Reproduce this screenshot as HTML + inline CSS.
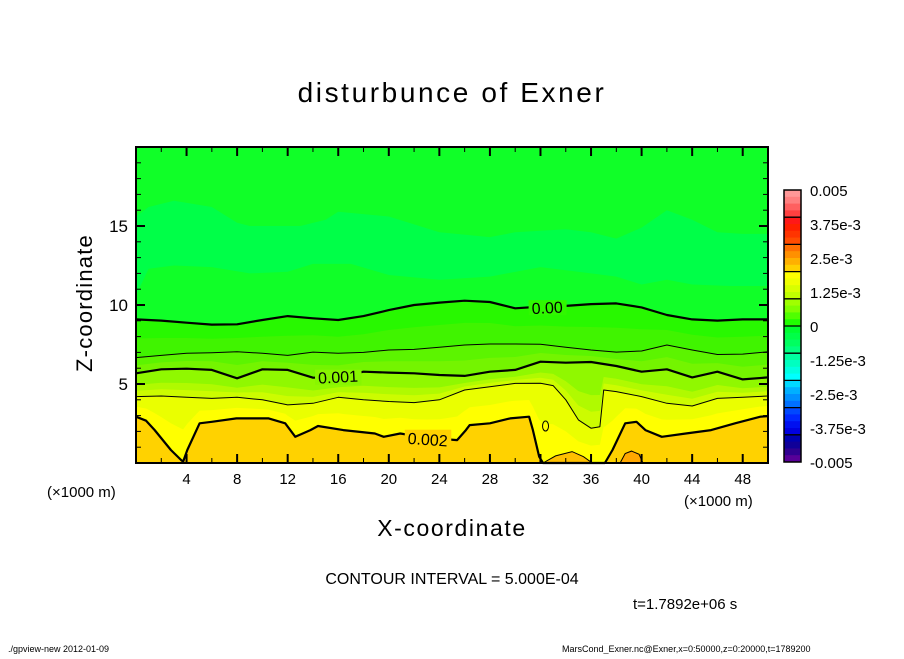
<!DOCTYPE html>
<html><head><meta charset="utf-8"><style>
html,body{margin:0;padding:0;background:#fff;}
svg text{font-family:"Liberation Sans",sans-serif;fill:#000;}
</style></head><body>
<svg id="chart" width="904" height="654" viewBox="0 0 904 654" xmlns="http://www.w3.org/2000/svg">
<text x="452" y="102" font-size="28" text-anchor="middle" letter-spacing="2.6">disturbunce of Exner</text>
<g id="plot"></g>
<g id="axes"></g>
<g id="cbar"></g>
<text transform="translate(92,303) rotate(-90)" font-size="22" text-anchor="middle" letter-spacing="1.2">Z-coordinate</text>
<text x="452" y="536" font-size="23" text-anchor="middle" letter-spacing="1.6">X-coordinate</text>
<text x="47" y="497" font-size="15">(×1000 m)</text>
<text x="684" y="506" font-size="15">(×1000 m)</text>
<text x="452" y="584" font-size="16" text-anchor="middle">CONTOUR INTERVAL = 5.000E-04</text>
<text x="633" y="609" font-size="15">t=1.7892e+06 s</text>
<text x="8" y="652" font-size="9">./gpview-new  2012-01-09</text>
<text x="562" y="652" font-size="9">MarsCond_Exner.nc@Exner,x=0:50000,z=0:20000,t=1789200</text>
</svg>
<script>
// data (x in 1000 m, z in 1000 m)
const c0x = [0,2,4,6,8,10,12,14,16,18,20,22,24,26,28,30,32,34,36,38,40,42,44,46,48,50];
const c0z = [9.09,9.01,8.88,8.76,8.78,9.05,9.30,9.16,9.05,9.3,9.68,10.0,10.15,10.27,10.19,9.79,9.9,9.94,10.06,10.1,9.85,9.37,9.09,9.01,9.09,9.09];
const c05x = [0,2,4,6,8,10,12,14,16,18,20,22,24,26,28,30,32,34,36,38,40,42,44,46,48,50];
const c05z = [6.67,6.81,6.94,6.98,7.04,6.94,6.81,7.02,6.94,7.0,7.15,7.19,7.32,7.47,7.53,7.53,7.51,7.32,7.15,7.02,7.09,7.47,7.15,6.87,6.89,7.04];
const c1x = [0,2,4,6,8,10,12,14,16,18,20,22,24,26,28,30,32,34,36,38,40,42,44,46,48,50];
const c1z = [5.68,5.93,5.97,5.89,5.36,5.93,5.89,5.4,5.42,5.78,5.72,5.68,5.57,5.51,5.78,5.89,6.41,6.35,6.39,6.14,5.78,5.93,5.42,5.78,5.29,5.42];
const c15x = [0,2,4,6,8,10,12,14,16,18,20,22,24,26,28,30,32,33,34,35,36,36.7,37,38,40,42,44,46,48,50];
const c15z = [4.2,4.24,4.16,4.09,4.16,4.0,3.68,3.78,4.16,4.0,3.89,3.82,4.0,4.62,4.83,5.04,5.05,4.9,4.0,2.73,2.2,2.3,4.62,4.52,4.2,3.78,3.61,4.09,4.16,4.24];
const c2x = [0,0.8,1.47,2.76,3.57,3.73,4.06,5.03,6.0,7.94,10.5,11.8,12.6,13.8,14.4,16.4,18.9,19.6,20.9,23,25.4,26.1,26.4,28.0,29.6,31.1,31.4,31.9,32.2,36.1,37.1,37.7,38.7,39.6,40.3,41.6,43.5,45.5,47.4,49.4,50];
const c2z = [2.93,2.68,2.09,0.82,0.19,0.08,0.82,2.51,2.61,2.82,2.82,2.51,1.66,2.08,2.34,2.08,1.87,1.66,1.87,1.6,1.45,2.08,2.4,2.51,2.82,2.93,2.08,0.40,0,0,0,0.82,2.51,2.61,2.08,1.66,1.87,2.08,2.51,2.93,2.97];
const pocketX = [32.2,33.2,34.5,35.4,36.1];
const pocketZ = [0,0.45,0.72,0.4,0];
const pocket2X = [38.3,38.7,39.2,39.8,40.1];
const pocket2Z = [0,0.6,0.75,0.55,0];
const lightX = [0,1,3,6,9,12,14,17,20,24,28,32,36,38,40,42,44,47,50];
const lightZ = [10.6,12.3,12.5,12.4,12.0,12.1,12.6,12.6,11.9,11.6,11.8,12.4,12.0,11.8,11.3,11.6,11.3,11.2,11.2];
const lightTopX = [0,1,3,6,8,9,10,13,15,16,20,24,28,30,34,36,38,40,42,44,46,48,50];
const lightTopZ = [15.6,16.2,16.6,16.2,15.2,15.0,15.0,15.0,15.4,15.9,15.6,14.6,14.3,14.6,14.8,14.6,14.2,14.9,16.0,15.4,14.6,14.5,14.5];
const cbLabels = ["0.005","3.75e-3","2.5e-3","1.25e-3","0","-1.25e-3","-2.5e-3","-3.75e-3","-0.005"];
const cbColors = ["#ff9898","#ff8080","#ff6060","#ff4040","#ff1818","#ff2000","#ff3400","#ff4c00","#ff7000","#ff9000","#ffb000","#ffd000","#ffff00","#f0ff00","#d8ff00","#c0ff00","#a0ff00","#80ff00","#50ff00","#20ff00","#00ff30","#00ff48","#00ff60","#00ff80","#00ffa0","#00ffc0","#00ffe0","#00ffff","#00d8ff","#00b0ff","#0090ff","#0070ff","#0048ff","#0028ff","#0010f0","#0000e0","#0000b0","#100098","#300090","#580098"];
const xTicks = [4,8,12,16,20,24,28,32,36,40,44,48];
const yTicks = [5,10,15];

const NS="http://www.w3.org/2000/svg";
const X0=136,X1=768,Y0=463,Y1=147;
const sx=k=>X0+k*(X1-X0)/50;
const sz=z=>Y0-z*(Y0-Y1)/20;
function mk(tag,attrs,parent){const e=document.createElementNS(NS,tag);for(const k in attrs)e.setAttribute(k,attrs[k]);parent.appendChild(e);return e;}
function interp(xs,zs,x){for(let i=0;i<xs.length-1;i++){if(x>=xs[i]&&x<=xs[i+1]){const t=(x-xs[i])/(xs[i+1]-xs[i]||1);return zs[i]+t*(zs[i+1]-zs[i]);}}return zs[zs.length-1];}
function mid(ax,az,bx,bz){const xs=[...new Set([...ax,...bx])].sort((a,b)=>a-b);return [xs,xs.map(x=>(interp(ax,az,x)+interp(bx,bz,x))/2)];}
function pts(xs,zs){return xs.map((x,i)=>sx(x).toFixed(1)+","+sz(zs[i]).toFixed(1)).join(" ");}
const plot=document.getElementById('plot');
function fillBelow(xs,zs,color,name){
  const p=mk('polygon',{points:pts(xs,zs)+" "+sx(50)+","+sz(0)+" "+sx(0)+","+sz(0),fill:color},plot);
  
  
}
const bg=mk('rect',{x:X0,y:Y1,width:X1-X0,height:Y0-Y1,fill:'#10ff28'},plot);


const lb=mk('polygon',{points:pts(lightTopX,lightTopZ)+" "+pts(lightX.slice().reverse(),lightZ.slice().reverse()),fill:'#00ff48'},plot);


fillBelow(c0x,c0z,'#28f800','band-0');
let m=mid(c0x,c0z,c05x,c05z); fillBelow(m[0],m[1],'#40f400','band-0-mid');
fillBelow(c05x,c05z,'#5cf400','band-0005');
m=mid(c05x,c05z,c1x,c1z); fillBelow(m[0],m[1],'#74f400','band-0005-mid');
fillBelow(c1x,c1z,'#90f800','band-001');
m=mid(c1x,c1z,c15x,c15z); fillBelow(m[0],m[1],'#b0fa00','band-001-mid');
m=mid(m[0],m[1],c15x,c15z); fillBelow(m[0],m[1],'#ccfc00','band-001-mid2');
fillBelow(c15x,c15z,'#eaff00','band-0015');
m=mid(c15x,c15z,c2x,c2z); fillBelow(m[0],m[1],'#ffff00','band-0015-mid');
fillBelow(c2x,c2z,'#ffd200','band-002');
const p1=mk('polygon',{points:pts(pocketX,pocketZ),fill:'#ffc000',stroke:'#000','stroke-width':1},plot);


const p2=mk('polygon',{points:pts(pocket2X,pocket2Z),fill:'#ffa800',stroke:'#000','stroke-width':1},plot);


const circ=mk('ellipse',{cx:sx(32.4),cy:sz(2.34),rx:3,ry:5,fill:'none',stroke:'#000','stroke-width':1},plot);


function line(xs,zs,w,name){const l=mk('polyline',{points:pts(xs,zs),fill:'none',stroke:'#000','stroke-width':w,'stroke-linejoin':'round'},plot);
  
  }
line(c0x,c0z,2.2,'contour-0');
line(c05x,c05z,1,'contour-0005');
line(c1x,c1z,2.2,'contour-001');
line(c15x,c15z,1,'contour-0015');
line(c2x,c2z,2.2,'contour-002');
function clabel(txt,k,z,rot,name,bgc){
  const r=mk('rect',{x:sx(k)-3,y:sz(z)-8,width:txt.length*8.5+4,height:15,fill:bgc},plot);
  
  
  const t=mk('text',{x:sx(k),y:sz(z)+6,'font-size':16,transform:`rotate(${rot} ${sx(k)} ${sz(z)})`},plot);
  t.textContent=txt;
  
  
}
clabel('0.00',31.3,9.8,-3,'contour-label-0','#30f800');
clabel('0.001',14.4,5.4,-3,'contour-label-001','#88f600');
clabel('0.002',21.5,1.6,4,'contour-label-002','#ffd200');
const ax=document.getElementById('axes');
const fr=mk('rect',{x:X0,y:Y1,width:X1-X0,height:Y0-Y1,fill:'none',stroke:'#000','stroke-width':2},ax);


for(let k=2;k<50;k+=2){const major=k%4===0;const L=major?9:5;
  mk('line',{x1:sx(k),x2:sx(k),y1:Y0,y2:Y0-L,stroke:'#000','stroke-width':major?2:1},ax);
  mk('line',{x1:sx(k),x2:sx(k),y1:Y1,y2:Y1+L,stroke:'#000','stroke-width':major?2:1},ax);}
for(let z=1;z<20;z++){const major=z%5===0;const L=major?9:5;
  mk('line',{x1:X0,x2:X0+L,y1:sz(z),y2:sz(z),stroke:'#000','stroke-width':major?2:1},ax);
  mk('line',{x1:X1,x2:X1-L,y1:sz(z),y2:sz(z),stroke:'#000','stroke-width':major?2:1},ax);}
xTicks.forEach(v=>{const t=mk('text',{x:sx(v),y:484,'font-size':15,'text-anchor':'middle'},ax);t.textContent=v;
  
  });
yTicks.forEach(v=>{const t=mk('text',{x:128,y:sz(v)+6,'font-size':17,'text-anchor':'end'},ax);t.textContent=v;
  
  });
const cb=document.getElementById('cbar');
const CB0=190,CB1=462,CBX=784,CBW=17;
const bh=(CB1-CB0)/cbColors.length;
cbColors.forEach((c,i)=>{const rr=mk('rect',{x:CBX,y:CB0+i*bh,width:CBW,height:bh+0.5,fill:c},cb);
  
  });
for(let g=1;g<10;g++){mk('line',{x1:CBX,x2:CBX+CBW,y1:CB0+g*(CB1-CB0)/10,y2:CB0+g*(CB1-CB0)/10,stroke:'#000','stroke-width':1.3},cb);}
mk('rect',{x:CBX,y:CB0,width:CBW,height:CB1-CB0,fill:'none',stroke:'#000','stroke-width':1.5},cb);
cbLabels.forEach((l,i)=>{const t=mk('text',{x:810,y:CB0+i*(CB1-CB0)/8+6,'font-size':15},cb);t.textContent=l;
  
  });
</script>
</body></html>
